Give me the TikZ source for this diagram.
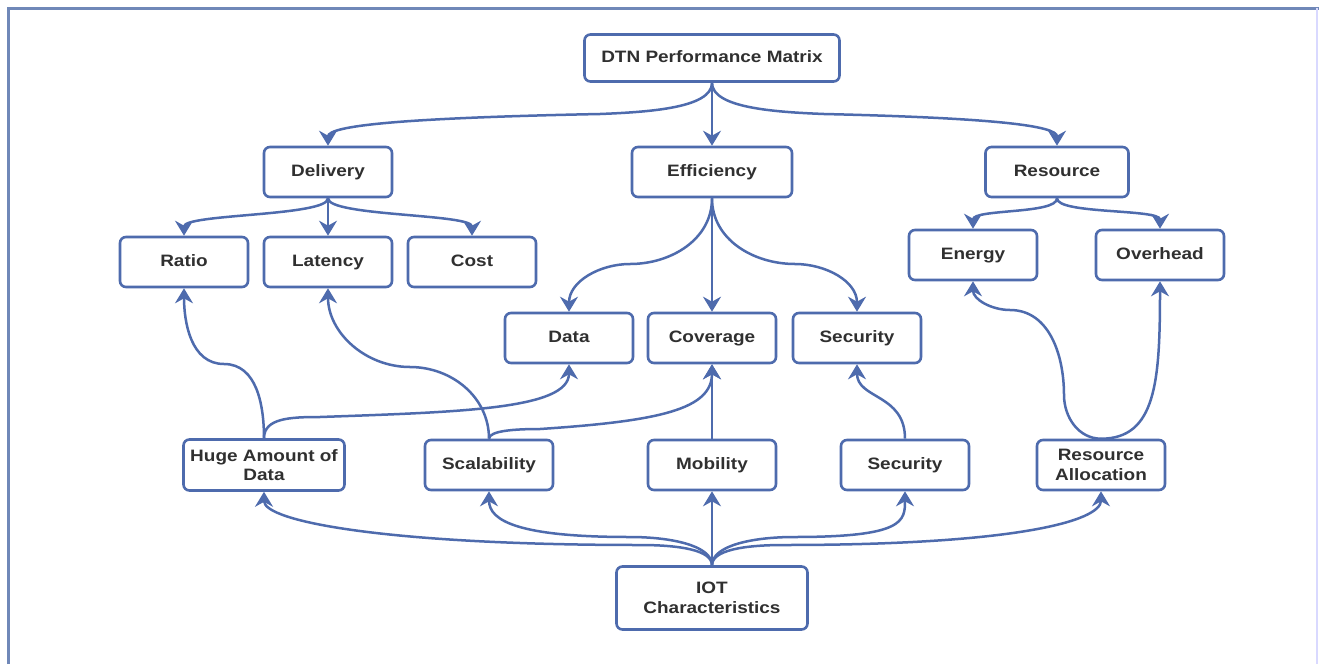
\documentclass[tikz,border=0pt]{standalone}
\usepackage{fontspec}
\setmainfont{Liberation Sans}[FakeStretch=1.15]
\usetikzlibrary{arrows.meta}
\definecolor{lc}{HTML}{4E6BAD}
\definecolor{framec}{HTML}{7088B8}
\definecolor{txt}{HTML}{303030}
\tikzset{
  box/.style={draw=lc, line width=2.6pt, rounded corners=6pt, fill=white, align=center,
    font=\fontsize{16.5}{19.5}\selectfont\bfseries, text=txt, inner sep=0pt,
    minimum width=128pt, minimum height=50pt, text height=12pt, text depth=3.5pt},
  twoline/.style={text height=, text depth=},
  conn/.style={draw=lc, line width=2.5pt, -{Stealth[length=15pt,width=18pt,inset=5pt]}}
}
\begin{document}
\begin{tikzpicture}[x=1pt,y=-1pt]
\useasboundingbox (0,0) rectangle (1319,664);
\fill[white] (0,0) rectangle (1319,664);
\draw[framec, line width=3pt] (8,664) -- (8,8) -- (1319,8);
\draw[blue!15, line width=2pt] (1317,8) -- (1317,664);

\node[box, minimum width=255pt, minimum height=47pt] (dtn) at (712,58) {DTN Performance Matrix};
\node[box] (del) at (328,172) {Delivery};
\node[box, minimum width=160pt] (eff) at (712,172) {Efficiency};
\node[box, minimum width=143pt] (res) at (1057,172) {Resource};
\node[box] (ratio) at (184,262) {Ratio};
\node[box] (lat) at (328,262) {Latency};
\node[box] (cost) at (472,262) {Cost};
\node[box] (en) at (973,255) {Energy};
\node[box] (oh) at (1160,255) {Overhead};
\node[box] (data) at (569,338) {Data};
\node[box] (cov) at (712,338) {Coverage};
\node[box] (sec) at (857,338) {Security};
\node[box, twoline, minimum width=161pt, minimum height=51pt] (huge) at (264,465) {Huge Amount of\\Data};
\node[box] (scal) at (489,465) {Scalability};
\node[box] (mob) at (712,465) {Mobility};
\node[box] (sec2) at (905,465) {Security};
\node[box, twoline] (ra) at (1101,465) {Resource\\Allocation};
\node[box, twoline, minimum width=191pt, minimum height=63pt] (iot) at (712,598) {IOT\\Characteristics};

% top level
\coordinate (m1) at (600,114);
\coordinate (m2) at (824,114);
\draw[conn] (dtn.south) .. controls +(0,25) and +(50,-2) .. (m1) .. controls +(-200,4) and +(0,-20) .. (del.north);
\draw[conn] (dtn.south) -- (eff.north);
\draw[conn] (dtn.south) .. controls +(0,25) and +(-50,-2) .. (m2) .. controls +(170,4) and +(0,-20) .. (res.north);
% delivery
\draw[conn] (del.south) .. controls +(0,18) and +(0,-22) .. (ratio.north);
\draw[conn] (del.south) -- (lat.north);
\draw[conn] (del.south) .. controls +(0,18) and +(0,-22) .. (cost.north);
% efficiency
\coordinate (m3) at (630,264);
\coordinate (m4) at (795,264);
\draw[conn] (eff.south) to[out=-90,in=0] (m3) to[out=180,in=90] (data.north);
\draw[conn] (eff.south) -- (cov.north);
\draw[conn] (eff.south) to[out=-90,in=180] (m4) to[out=0,in=90] (sec.north);
% resource
\draw[conn] (res.south) .. controls +(0,16) and +(0,-20) .. (en.north);
\draw[conn] (res.south) .. controls +(0,16) and +(0,-20) .. (oh.north);
% middle row upward
\coordinate (m5) at (224,364);
\coordinate (m6) at (320,417);
\coordinate (m7) at (410,367);
\coordinate (m8) at (540,429);
\draw[conn] (huge.north) to[out=90,in=0] (m5) to[out=180,in=-90] (ratio.south);
\draw[conn] (huge.north) .. controls +(0,-20) and +(-30,0) .. (m6) .. controls +(140,-5) and +(0,45) .. (data.south);
\draw[conn] (scal.north) to[out=90,in=0] (m7) to[out=180,in=-90] (lat.south);
\draw[conn] (scal.north) .. controls +(0,-8) and +(-25,0) .. (m8) .. controls +(120,-8) and +(0,45) .. (cov.south);
\draw[conn] (mob.north) -- (cov.south);
\draw[conn] (sec2.north) .. controls +(0,-45) and +(0,35) .. (sec.south);
\coordinate (m9) at (1064,395);
\coordinate (m10) at (1010,310);
\draw[conn] (ra.north) to[out=180,in=-90] (m9) to[out=90,in=0] (m10) to[out=180,in=-90] (en.south);
\draw[conn] (ra.north) .. controls +(55,0) and +(0,100) .. (oh.south);
% IOT
\coordinate (n1) at (640,545);
\coordinate (n2) at (630,537);
\coordinate (n3) at (794,537);
\coordinate (n4) at (784,545);
\draw[conn] (iot.north) .. controls +(0,-15) and +(40,0) .. (n1) .. controls +(-250,0) and +(0,30) .. (huge.south);
\draw[conn] (iot.north) .. controls +(0,-20) and +(40,0) .. (n2) .. controls +(-110,0) and +(0,30) .. (scal.south);
\draw[conn] (iot.north) -- (mob.south);
\draw[conn] (iot.north) .. controls +(0,-20) and +(-40,0) .. (n3) .. controls +(110,0) and +(0,30) .. (sec2.south);
\draw[conn] (iot.north) .. controls +(0,-15) and +(-40,0) .. (n4) .. controls +(230,0) and +(0,30) .. (ra.south);
\end{tikzpicture}
\end{document}
